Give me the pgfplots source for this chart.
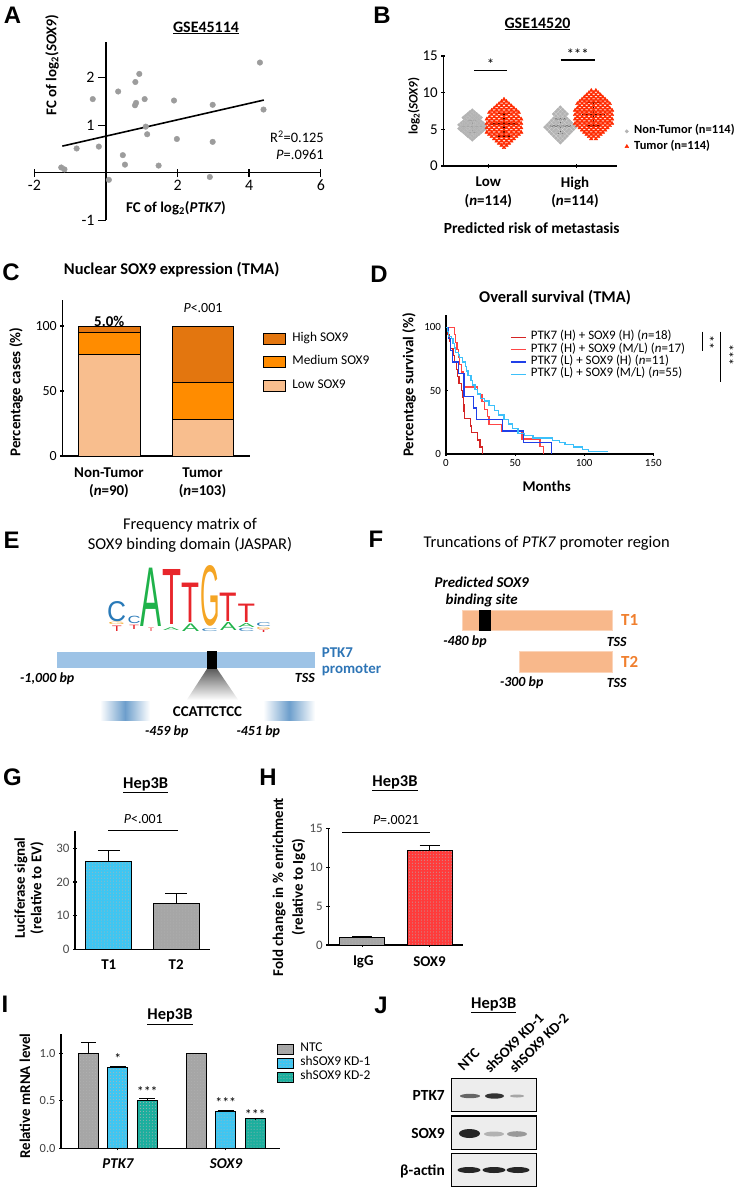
\documentclass[border=0pt]{standalone}
\usepackage{graphicx}
\usepackage{pgfplots}
\pgfplotsset{compat=1.18}
\usetikzlibrary{patterns}
\usepackage{fontspec}
\setmainfont{Carlito}
\newfontfamily\arial{Liberation Sans}
\newcommand\fs[1]{\fontsize{#1}{#1}\selectfont}
\newcommand\fsl[2]{\fontsize{#1}{#2}\selectfont}
\newcommand\pl[1]{{\arial\bfseries\fs{24}#1}}
\newcommand\logoL[6]{\node[anchor=south west, inner sep=0pt] at (#1,#2) {\resizebox{#3bp}{#4bp}{\textcolor{#5}{\arial #6}}};}

\definecolor{ptgray}{HTML}{9C9C9C}
\definecolor{nongray}{HTML}{B3B3B3}
\definecolor{tumred}{HTML}{FF2A00}
\definecolor{lowc}{HTML}{F8BE8E}
\definecolor{medc}{HTML}{FF8C00}
\definecolor{highc}{HTML}{E3760F}
\definecolor{kdred}{HTML}{D42424}
\definecolor{kred}{HTML}{FF4545}
\definecolor{kblue}{HTML}{2040E8}
\definecolor{klblue}{HTML}{3CC0FA}
\definecolor{barblue}{HTML}{3EC6F2}
\definecolor{bargray}{HTML}{A6A6A6}
\definecolor{barred}{HTML}{FF3B3B}
\definecolor{barteal}{HTML}{1BAF9E}
\definecolor{probar}{HTML}{9DC3E6}
\definecolor{problue}{HTML}{2E75B6}
\definecolor{peach}{HTML}{F8B88B}
\definecolor{torange}{HTML}{F07F2E}
\definecolor{logoC}{HTML}{2A7AB8}
\definecolor{logoA}{HTML}{1FB24A}
\definecolor{logoT}{HTML}{E8262B}
\definecolor{logoG}{HTML}{F5A524}

\pgfplotsset{
  every axis/.append style={scale only axis, anchor=south west, clip=false,
    axis line style={line width=1.1pt}, tick style={black, line width=1.1pt},
    major tick length=4bp, tick align=outside,
    /pgf/number format/assume math mode=true},
  noarr/.style={axis line style={-}, x axis line style={-}, y axis line style={-}},
  mybar/.style={ybar, bar shift=0pt, draw=black, line width=1pt, postaction={pattern=dots, pattern color=black!30}},
  errb/.style={/pgfplots/error bars/y dir=plus, /pgfplots/error bars/y explicit,
    /pgfplots/error bars/error bar style={line width=1pt, black},
    /pgfplots/error bars/error mark options={rotate=90, line width=1pt, black, mark size=#1}},
  sqleg/.style={legend image code/.code={\draw[fill=#1, draw=black, line width=0.8pt] (0bp,-5bp) rectangle (16bp,5bp);}},
}

\begin{document}
\begin{tikzpicture}
\begin{scope}[x=1bp,y=-1bp, nodes={inner sep=0pt}]
\useasboundingbox (0,0) rectangle (747,1189);
% panel letters
\node at (12.5,15) {\pl{A}};
\node at (382,15) {\pl{B}};
\node at (11,272) {\pl{C}};
\node at (379,274) {\pl{D}};
\node at (11.7,540) {\pl{E}};
\node at (376,539) {\pl{F}};
\node at (12.5,777) {\pl{G}};
\node at (268,777) {\pl{H}};
\node at (5,1004) {\pl{I}};
\node at (381,1005) {\pl{J}};
% A
\node[font=\bfseries\fs{16}] at (206,28) {\underline{GSE45114}};
\node[font=\bfseries\fs{15}, rotate=90] at (52,65) {FC of log\textsubscript{2}(\textit{SOX9})};
\node[font=\bfseries\fs{15}] at (176,208) {FC of log\textsubscript{2}(\textit{PTK7})};
\node[font=\fs{14.5}, anchor=east] at (324,136.7) {R\textsuperscript{2}=0.125};
\node[font=\fs{14.5}, anchor=east] at (324,155) {\textit{P}=.0961};
% B
\node[font=\bfseries\fs{16}] at (537.5,24) {\underline{GSE14520}};
\node[font=\bfseries\fs{13}, rotate=90] at (414,106) {log\textsubscript{2}(\textit{SOX9})};
\node[font=\bfseries\fsl{15}{18.7}, align=center] at (488.3,192.3) {Low\\(\textit{n}=114)};
\node[font=\bfseries\fsl{15}{18.7}, align=center] at (575,192.3) {High\\(\textit{n}=114)};
\node[font=\bfseries\fs{15.5}] at (531.7,228.3) {Predicted risk of metastasis};
% C
\node[font=\bfseries\fs{16.5}] at (171.7,270) {Nuclear SOX9 expression (TMA)};
\node[font=\bfseries\fs{15}, rotate=90] at (16,392) {Percentage cases (\%)};
\node[font=\fs{14}] at (203,308) {\textit{P}<.001};
\node[font=\bfseries\fsl{15}{18.4}, align=center] at (109,482.5) {Non-Tumor\\(\textit{n}=90)};
\node[font=\bfseries\fsl{15}{18.4}, align=center] at (202.5,482.5) {Tumor\\(\textit{n}=103)};
% D
\node[font=\bfseries\fs{16.5}] at (555,297.5) {Overall survival (TMA)};
\node[font=\bfseries\fs{15}, rotate=90] at (409,385) {Percentage survival (\%)};
\node[font=\bfseries\fs{15}] at (546.7,486.7) {Months};
\draw[line width=1pt] (702.3,331.7) -- (702.3,351);
\draw[line width=1pt] (720,331.7) -- (720,381.7);
\node[font=\fs{14}, rotate=-90] at (709,342) {**};
\node[font=\fs{14}, rotate=-90] at (728.5,355) {***};
% E
\node[font=\fsl{16.5}{20}, align=center] at (190,535) {Frequency matrix of\\SOX9 binding domain (JASPAR)};
\logoL{107}{621.7}{19}{20}{logoC}{C}
\logoL{127.3}{624}{13}{7.3}{logoC}{C}
\logoL{140.6}{626.7}{21}{58.4}{logoA}{A}
\logoL{162}{625}{19}{55}{logoT}{T}
\logoL{181.4}{622.7}{18}{39.4}{logoT}{T}
\logoL{199.8}{626.7}{19.5}{60}{logoG}{G}
\logoL{219.6}{621.7}{17.5}{28.4}{logoT}{T}
\logoL{237.5}{622.7}{17.5}{18.4}{logoT}{T}
\logoL{108}{625}{17}{2.4}{logoG}{G}
\logoL{111.7}{631.2}{10}{5.5}{logoT}{T}
\logoL{129}{629.2}{10}{4.3}{logoT}{T}
\logoL{148}{631.2}{6}{3.4}{logoT}{T}
\logoL{163}{630.8}{16}{2.8}{logoA}{A}
\logoL{182}{631.2}{17}{7.5}{logoA}{A}
\logoL{201}{631.5}{17}{2.8}{logoC}{C}
\logoL{220}{630.5}{16.5}{8}{logoA}{A}
\logoL{238}{627.8}{16.5}{4}{logoA}{A}
\logoL{238}{632}{16.5}{3.3}{logoC}{C}
\logoL{256}{627}{15}{3.8}{logoC}{C}
\logoL{256}{629.6}{15}{2.1}{logoG}{G}
\logoL{258.5}{632.2}{10}{2.3}{logoT}{T}
\fill[probar] (56.7,651.7) rectangle (315,668.3);
\shade[top color=black!65, bottom color=white] (207.3,668.3) -- (216.7,668.3) -- (238.3,700) -- (186.7,700) -- cycle;
\fill[black] (207.3,651) rectangle (216.7,669);
\node[font=\bfseries\fs{15}, text=problue, anchor=west] at (321.7,653) {PTK7};
\node[font=\bfseries\fs{15}, text=problue, anchor=west] at (321.7,670) {promoter};
\node[font=\bfseries\itshape\fs{14}, anchor=west] at (20,678.3) {-1,000 bp};
\node[font=\bfseries\itshape\fs{14}, anchor=east] at (315,678.3) {TSS};
\shade[left color=white, right color=white, middle color=problue!70] (100,701.7) rectangle (150,720);
\shade[left color=white, right color=white, middle color=problue!70] (263.3,701.7) rectangle (315,720);
\node[font=\bfseries\fs{15}] at (207.5,711.7) {CCATTCTCC};
\node[font=\bfseries\itshape\fs{14}] at (166.7,731.7) {-459 bp};
\node[font=\bfseries\itshape\fs{14}] at (258.3,731.7) {-451 bp};
% F
\node[font=\fs{16.5}] at (546.7,543.3) {Truncations of \textit{PTK7} promoter region};
\node[font=\bfseries\itshape\fsl{15}{18}, align=center] at (481.7,592) {Predicted SOX9\\binding site};
\filldraw[fill=peach, draw=peach!60!white, line width=0.8pt] (462.7,610) rectangle (612.3,630.7);
\fill[black] (479.3,610) rectangle (490.7,630.7);
\node[font=\bfseries\fs{17}, text=torange, anchor=west] at (621,620) {T1};
\node[font=\bfseries\itshape\fs{14}] at (465,641.7) {-480 bp};
\node[font=\bfseries\itshape\fs{14}] at (616.7,641.7) {TSS};
\filldraw[fill=peach, draw=peach!60!white, line width=0.8pt] (519,651.7) rectangle (612.3,672);
\node[font=\bfseries\fs{17}, text=torange, anchor=west] at (621,662) {T2};
\node[font=\bfseries\itshape\fs{14}] at (521.7,683) {-300 bp};
\node[font=\bfseries\itshape\fs{14}] at (616.7,683) {TSS};
% G
\node[font=\bfseries\fs{16.5}] at (145.7,785) {\underline{Hep3B}};
\node[font=\fs{14}] at (143.3,819.3) {\textit{P}<.001};
\draw[line width=1pt] (108.3,830) -- (178.3,830);
\node[font=\bfseries\fsl{15}{16.5}, rotate=90, align=center] at (29,888) {Luciferase signal\\(relative to EV)};
\node[font=\bfseries\fs{15}] at (108.8,965) {T1};
\node[font=\bfseries\fs{15}] at (176.2,965) {T2};
% H
\node[font=\bfseries\fs{16.5}] at (395,783.3) {\underline{Hep3B}};
\node[font=\fs{14}] at (396,820) {\textit{P}=.0021};
\draw[line width=1pt] (342,832.7) -- (430,832.7);
\node[font=\bfseries\fsl{15}{20}, rotate=90, align=center] at (289,887) {Fold change in \% enrichment\\(relative to IgG)};
\node[font=\bfseries\fs{15}] at (363.3,961.7) {IgG};
\node[font=\bfseries\fs{15}] at (429.5,961.7) {SOX9};
% I
\node[font=\bfseries\fs{16.5}] at (170,1016.7) {\underline{Hep3B}};
\node[font=\bfseries\fs{15}, rotate=90] at (25,1096) {Relative mRNA level};
\node[font=\bfseries\itshape\fs{15}] at (118,1163.3) {PTK7};
\node[font=\bfseries\itshape\fs{15}] at (226,1163.3) {SOX9};
% J
\node[font=\bfseries\fs{16.5}] at (493.7,1005) {\underline{Hep3B}};
\node[font=\bfseries\fs{14.5}, rotate=45, anchor=base west] at (463.5,1071.5) {NTC};
\node[font=\bfseries\fs{14.5}, rotate=45, anchor=base west] at (490,1074) {shSOX9 KD-1};
\node[font=\bfseries\fs{14.5}, rotate=45, anchor=base west] at (515,1074) {shSOX9 KD-2};
\filldraw[fill=black!7, draw=black, line width=1.2pt] (451.7,1078.3) rectangle (536.7,1111.7);
\filldraw[fill=black!7, draw=black, line width=1.2pt] (451.7,1116) rectangle (536.7,1149.3);
\filldraw[fill=black!7, draw=black, line width=1.2pt] (451.7,1153.3) rectangle (536.7,1186.7);
\fill[black!60] (470,1096) ellipse (10 and 2.2);
\fill[black!80] (494.5,1096) ellipse (9.5 and 2.7);
\fill[black!35] (517,1096) ellipse (7 and 1.5);
\fill[black!85] (469.5,1133.5) ellipse (10.5 and 4.5);
\fill[black!30] (494,1134) ellipse (10 and 2.5);
\fill[black!40] (517,1134) ellipse (10 and 2.8);
\fill[black!85] (469,1170) ellipse (11.5 and 3);
\fill[black!85] (494,1170) ellipse (11.5 and 3);
\fill[black!85] (518,1170) ellipse (11.5 and 3);
\node[font=\bfseries\fs{15.5}, anchor=east] at (445,1095) {PTK7};
\node[font=\bfseries\fs{15.5}, anchor=east] at (445,1133.5) {SOX9};
\node[font=\bfseries\fs{15.5}, anchor=east] at (445,1171) {β-actin};
\end{scope}

% ---------- A ----------
\begin{axis}[at={(34.4bp,-220.2bp)}, width=286.4bp, height=178.1bp,
  xmin=-2,xmax=6,ymin=-1,ymax=2.75, axis lines=middle, noarr,
  axis line style={line width=1.4pt}, tick style={line width=1.4pt},
  xtick={-2,2,4,6}, xticklabels={-2,2,4,6}, ytick={-1,1,2}, yticklabels={-1,1,2},
  xtick align=center, ytick align=outside, major tick length=8bp,
  tick label style={font=\fs{16}}]
\addplot[only marks, mark=*, color=ptgray, mark size=2.8bp] coordinates {
(4.30,2.32)(4.40,1.33)(0.93,2.08)(0.82,1.91)(0.34,1.71)(-0.37,1.55)(0.84,1.47)(0.81,1.42)
(1.08,1.55)(1.90,1.52)(2.98,1.43)(1.11,0.97)(1.15,0.81)(1.98,0.71)(2.98,0.65)(-0.82,0.51)
(-0.20,0.55)(0.47,0.37)(0.53,0.17)(1.47,0.15)(-1.25,0.11)(-1.16,0.07)(0.08,-0.15)(2.90,-0.09)};
\addplot[black, line width=1.6pt] coordinates {(-1.22,0.56)(4.41,1.53)};
\end{axis}

% ---------- B ----------
\begin{axis}[at={(443.3bp,-166bp)}, width=173.4bp, height=110bp,
  xmin=0,xmax=6,ymin=0,ymax=15, axis lines=left, noarr,
  xtick={1.55,4.6}, xticklabels={,,}, ytick={0,5,10,15},
  tick label style={font=\fs{15}},
  legend style={at={(1.040,0.246)}, anchor=west, draw=none, fill=none, inner sep=0pt,
    font=\bfseries\fs{12.5}, row sep=5.2bp, nodes={inner sep=0pt, text height=0.75em, text depth=0.25em}},
  legend cell align=left,
  legend image code/.code={\draw[#1] plot coordinates {(3bp,0bp)}; \path[draw=none,fill=none] (0bp,0bp) -- (10.4bp,0bp);}]
\addplot[only marks, mark=*, color=nongray, mark size=1.7bp] coordinates {
(1,3.6)
(.925,3.85)(1.075,3.85)
(.85,4.1)(1,4.1)(1.15,4.1)
(.775,4.35)(.925,4.35)(1.075,4.35)(1.225,4.35)
(.7,4.6)(.85,4.6)(1,4.6)(1.15,4.6)(1.3,4.6)
(.625,4.85)(.775,4.85)(.925,4.85)(1.075,4.85)(1.225,4.85)(1.375,4.85)
(.55,5.1)(.7,5.1)(.85,5.1)(1,5.1)(1.15,5.1)(1.3,5.1)(1.45,5.1)
(.625,5.35)(.775,5.35)(.925,5.35)(1.075,5.35)(1.225,5.35)(1.375,5.35)
(.55,5.6)(.7,5.6)(.85,5.6)(1,5.6)(1.15,5.6)(1.3,5.6)(1.45,5.6)
(.625,5.85)(.775,5.85)(.925,5.85)(1.075,5.85)(1.225,5.85)(1.375,5.85)
(.7,6.1)(.85,6.1)(1,6.1)(1.15,6.1)(1.3,6.1)
(.775,6.35)(.925,6.35)(1.075,6.35)(1.225,6.35)
(.7,6.6)(.85,6.6)(1,6.6)(1.15,6.6)(1.3,6.6)
(.775,6.85)(.925,6.85)(1.075,6.85)(1.225,6.85)
(.85,7.1)(1,7.1)(1.15,7.1)
(.925,7.35)(1.075,7.35)
(1,7.6)
(4.05,3.2)
(3.975,3.5)(4.125,3.5)
(3.9,3.8)(4.05,3.8)(4.2,3.8)
(3.825,4.1)(3.975,4.1)(4.125,4.1)(4.275,4.1)
(3.75,4.4)(3.9,4.4)(4.05,4.4)(4.2,4.4)(4.35,4.4)
(3.675,4.7)(3.825,4.7)(3.975,4.7)(4.125,4.7)(4.275,4.7)(4.425,4.7)
(3.6,5)(3.75,5)(3.9,5)(4.05,5)(4.2,5)(4.35,5)(4.5,5)
(3.525,5.3)(3.675,5.3)(3.825,5.3)(3.975,5.3)(4.125,5.3)(4.275,5.3)(4.425,5.3)(4.575,5.3)
(3.6,5.6)(3.75,5.6)(3.9,5.6)(4.05,5.6)(4.2,5.6)(4.35,5.6)(4.5,5.6)
(3.675,5.9)(3.825,5.9)(3.975,5.9)(4.125,5.9)(4.275,5.9)(4.425,5.9)
(3.75,6.2)(3.9,6.2)(4.05,6.2)(4.2,6.2)(4.35,6.2)
(3.825,6.5)(3.975,6.5)(4.125,6.5)(4.275,6.5)
(3.9,6.8)(4.05,6.8)(4.2,6.8)
(3.825,7.1)(3.975,7.1)(4.125,7.1)(4.275,7.1)
(3.9,7.4)(4.05,7.4)(4.2,7.4)
(3.975,7.7)(4.125,7.7)
(4.05,8)};
\addlegendentry{Non-Tumor (n=114)}
\addplot[only marks, mark=triangle*, color=tumred, mark size=2.1bp] coordinates {
(2.1,2.5)
(2.015,2.8)(2.185,2.8)
(1.93,3.1)(2.1,3.1)(2.27,3.1)
(1.845,3.4)(2.015,3.4)(2.185,3.4)(2.355,3.4)
(1.76,3.7)(1.93,3.7)(2.1,3.7)(2.27,3.7)(2.44,3.7)
(1.675,4)(1.845,4)(2.015,4)(2.185,4)(2.355,4)(2.525,4)
(1.59,4.3)(1.76,4.3)(1.93,4.3)(2.1,4.3)(2.27,4.3)(2.44,4.3)(2.61,4.3)
(1.505,4.6)(1.675,4.6)(1.845,4.6)(2.015,4.6)(2.185,4.6)(2.355,4.6)(2.525,4.6)(2.695,4.6)
(1.59,4.9)(1.76,4.9)(1.93,4.9)(2.1,4.9)(2.27,4.9)(2.44,4.9)(2.61,4.9)
(1.505,5.2)(1.675,5.2)(1.845,5.2)(2.015,5.2)(2.185,5.2)(2.355,5.2)(2.525,5.2)(2.695,5.2)
(1.59,5.5)(1.76,5.5)(1.93,5.5)(2.1,5.5)(2.27,5.5)(2.44,5.5)(2.61,5.5)
(1.505,5.8)(1.675,5.8)(1.845,5.8)(2.015,5.8)(2.185,5.8)(2.355,5.8)(2.525,5.8)(2.695,5.8)
(1.59,6.1)(1.76,6.1)(1.93,6.1)(2.1,6.1)(2.27,6.1)(2.44,6.1)(2.61,6.1)
(1.505,6.4)(1.675,6.4)(1.845,6.4)(2.015,6.4)(2.185,6.4)(2.355,6.4)(2.525,6.4)(2.695,6.4)
(1.59,6.7)(1.76,6.7)(1.93,6.7)(2.1,6.7)(2.27,6.7)(2.44,6.7)(2.61,6.7)
(1.675,7)(1.845,7)(2.015,7)(2.185,7)(2.355,7)(2.525,7)
(1.59,7.3)(1.76,7.3)(1.93,7.3)(2.1,7.3)(2.27,7.3)(2.44,7.3)(2.61,7.3)
(1.675,7.6)(1.845,7.6)(2.015,7.6)(2.185,7.6)(2.355,7.6)(2.525,7.6)
(1.76,7.9)(1.93,7.9)(2.1,7.9)(2.27,7.9)(2.44,7.9)
(1.845,8.2)(2.015,8.2)(2.185,8.2)(2.355,8.2)
(1.93,8.5)(2.1,8.5)(2.27,8.5)
(2.015,8.8)(2.185,8.8)
(2.1,9.1)
(5.12,3.7)(5.28,3.7)
(5.04,4)(5.2,4)(5.36,4)
(4.96,4.3)(5.12,4.3)(5.28,4.3)(5.44,4.3)
(4.88,4.6)(5.04,4.6)(5.2,4.6)(5.36,4.6)(5.52,4.6)
(4.8,4.9)(4.96,4.9)(5.12,4.9)(5.28,4.9)(5.44,4.9)(5.6,4.9)
(4.72,5.2)(4.88,5.2)(5.04,5.2)(5.2,5.2)(5.36,5.2)(5.52,5.2)(5.68,5.2)
(4.64,5.5)(4.8,5.5)(4.96,5.5)(5.12,5.5)(5.28,5.5)(5.44,5.5)(5.6,5.5)(5.76,5.5)
(4.56,5.8)(4.72,5.8)(4.88,5.8)(5.04,5.8)(5.2,5.8)(5.36,5.8)(5.52,5.8)(5.68,5.8)(5.84,5.8)
(4.64,6.1)(4.8,6.1)(4.96,6.1)(5.12,6.1)(5.28,6.1)(5.44,6.1)(5.6,6.1)(5.76,6.1)
(4.56,6.4)(4.72,6.4)(4.88,6.4)(5.04,6.4)(5.2,6.4)(5.36,6.4)(5.52,6.4)(5.68,6.4)(5.84,6.4)
(4.64,6.7)(4.8,6.7)(4.96,6.7)(5.12,6.7)(5.28,6.7)(5.44,6.7)(5.6,6.7)(5.76,6.7)
(4.56,7)(4.72,7)(4.88,7)(5.04,7)(5.2,7)(5.36,7)(5.52,7)(5.68,7)(5.84,7)
(4.64,7.3)(4.8,7.3)(4.96,7.3)(5.12,7.3)(5.28,7.3)(5.44,7.3)(5.6,7.3)(5.76,7.3)
(4.56,7.6)(4.72,7.6)(4.88,7.6)(5.04,7.6)(5.2,7.6)(5.36,7.6)(5.52,7.6)(5.68,7.6)(5.84,7.6)
(4.64,7.9)(4.8,7.9)(4.96,7.9)(5.12,7.9)(5.28,7.9)(5.44,7.9)(5.6,7.9)(5.76,7.9)
(4.72,8.2)(4.88,8.2)(5.04,8.2)(5.2,8.2)(5.36,8.2)(5.52,8.2)(5.68,8.2)
(4.64,8.5)(4.8,8.5)(4.96,8.5)(5.12,8.5)(5.28,8.5)(5.44,8.5)(5.6,8.5)(5.76,8.5)
(4.72,8.8)(4.88,8.8)(5.04,8.8)(5.2,8.8)(5.36,8.8)(5.52,8.8)(5.68,8.8)
(4.8,9.1)(4.96,9.1)(5.12,9.1)(5.28,9.1)(5.44,9.1)(5.6,9.1)
(4.88,9.4)(5.04,9.4)(5.2,9.4)(5.36,9.4)(5.52,9.4)
(4.96,9.7)(5.12,9.7)(5.28,9.7)(5.44,9.7)
(5.04,10)(5.2,10)(5.36,10)
(5.12,10.3)(5.28,10.3)};
\addlegendentry{Tumor (n=114)}
\addplot[black, line width=1.4pt, unbounded coords=jump, forget plot] coordinates {
(0.62,5.37)(1.38,5.37)(1,nan)(1,4.55)(1,6.18)(1,nan)(0.82,4.55)(1.18,4.55)(1,nan)(0.82,6.18)(1.18,6.18)(1,nan)
(1.6,5.73)(2.6,5.73)(1,nan)(2.1,4.1)(2.1,7.19)(1,nan)(1.9,4.1)(2.3,4.1)(1,nan)(1.9,7.19)(2.3,7.19)(1,nan)
(3.68,5.46)(4.42,5.46)(1,nan)(4.05,4.46)(4.05,6.41)(1,nan)(3.85,4.46)(4.25,4.46)(1,nan)(3.85,6.41)(4.25,6.41)(1,nan)
(4.8,7.0)(5.6,7.0)(1,nan)(5.2,5.46)(5.2,8.64)(1,nan)(4.97,5.46)(5.43,5.46)(1,nan)(4.97,8.64)(5.43,8.64)(1,nan)
(1.07,13.05)(2.21,13.05)(1,nan)(4.06,14.46)(5.25,14.46)};
\node[font=\fs{15}] at (axis cs:1.64,13.9) {*};
\node[font=\fs{15}] at (axis cs:4.65,15.3) {***};
\end{axis}

% ---------- C ----------
\begin{axis}[at={(62.3bp,-456bp)}, width=187.7bp, height=156bp,
  xmin=0.5,xmax=2.5,ymin=0,ymax=120, axis lines=left, noarr,
  ybar stacked, bar width=61.7bp, xtick=\empty, ytick={0,50,100},
  tick label style={font=\fs{14}}, reverse legend,
  legend style={at={(1.069,0.6006)}, anchor=west, draw=none, fill=none, inner sep=0pt,
    font=\fs{13.4}, row sep=11.3bp, nodes={inner sep=0pt, text height=0.75em, text depth=0.25em}},
  legend cell align=left,
  legend image code/.code={\draw[#1, draw=black, line width=1pt] (0bp,-5.5bp) rectangle (22bp,5.5bp); \path[draw=none,fill=none] (0bp,0bp) -- (28.7bp,0bp);}]
\addplot[fill=lowc, draw=black, line width=1pt] coordinates {(1,77.8)(2,28.2)};
\addlegendentry{Low SOX9}
\addplot[fill=medc, draw=black, line width=1pt] coordinates {(1,17.2)(2,28.2)};
\addlegendentry{Medium SOX9}
\addplot[fill=highc, draw=black, line width=1pt] coordinates {(1,5.0)(2,43.6)};
\addlegendentry{High SOX9}
\node[font=\bfseries\fs{15}] at (axis cs:1,40.5) {77.8\%};
\node[font=\bfseries\fs{15}] at (axis cs:1,84.8) {17.2\%};
\node[font=\bfseries\fs{15}] at (axis cs:1,103.3) {5.0\%};
\node[font=\bfseries\fs{15}] at (axis cs:2,75.6) {43.6\%};
\node[font=\bfseries\fs{15}] at (axis cs:2,40.5) {28.2\%};
\node[font=\bfseries\fs{15}] at (axis cs:2,14) {28.2\%};
\end{axis}

% ---------- D ----------
\begin{axis}[at={(446bp,-454bp)}, width=207.3bp, height=139.4bp,
  xmin=0,xmax=150,ymin=0,ymax=110, axis lines=left, noarr,
  xtick={0,50,100,150}, ytick={0,50,100}, major tick length=3bp,
  tick label style={font=\fs{11}},
  legend style={at={(0.309,0.704)}, anchor=west, draw=none, fill=none, inner sep=0pt,
    font=\fs{13}, row sep=2.3bp, nodes={inner sep=0pt, text height=0.75em, text depth=0.25em}},
  legend cell align=left,
  legend image code/.code={\draw[#1] (0bp,0bp) -- (15bp,0bp); \path[draw=none,fill=none] (0bp,0bp) -- (20bp,0bp);}]
\addplot[kdred, line width=1.3pt] coordinates {
(0,100)(1.5,100)(1.5,94.4)(2.5,94.4)(2.5,88.9)(3.5,88.9)(3.5,83.3)(5,83.3)(5,77.8)(6,77.8)(6,72.2)
(7.5,72.2)(7.5,66.7)(8.5,66.7)(8.5,61.1)(9.5,61.1)(9.5,55.6)(11,55.6)(11,50)(12,50)(12,44.4)
(12.5,44.4)(12.5,38.9)(13,38.9)(13,33.3)(13.5,33.3)(13.5,27.8)(17.5,27.8)(17.5,22.2)(18.5,22.2)
(18.5,16.7)(23,16.7)(23,11.1)(24.5,11.1)(24.5,5.6)(26.5,5.6)(26.5,0)};
\addlegendentry{PTK7 (H) + SOX9 (H) (\textit{n}=18)}
\addplot[kred, line width=1.3pt] coordinates {
(0,100)(6,100)(6,94.1)(7,94.1)(7,88.2)(8,88.2)(8,82.4)(9,82.4)(9,76.5)(10,76.5)(10,70.6)(11,70.6)
(11,64.7)(12.5,64.7)(12.5,58.8)(13.5,58.8)(13.5,52.9)(23,52.9)(23,47.1)(26,47.1)(26,41.2)(28,41.2)
(28,35.3)(30,35.3)(30,29.4)(31,29.4)(31,23.5)(40,23.5)(40,17.6)(55,17.6)(55,11.8)(68,11.8)(68,5.9)
(70.5,5.9)(70.5,0)};
\addlegendentry{PTK7 (H) + SOX9 (M/L) (\textit{n}=17)}
\addplot[kblue, line width=1.3pt] coordinates {
(0,100)(2,100)(2,90.9)(3.5,90.9)(3.5,81.8)(4.5,81.8)(4.5,72.7)(9,72.7)(9,63.6)(13,63.6)(13,45.5)
(20,45.5)(20,36.4)(22,36.4)(22,27.3)(41,27.3)(41,18.2)(56,18.2)(56,9.1)(76.5,9.1)(76.5,0)};
\addlegendentry{PTK7 (L) + SOX9 (H) (\textit{n}=11)}
\addplot[klblue, line width=1.3pt] coordinates {
(0,100)(1,100)(1,96.4)(2,96.4)(2,92.7)(4,92.7)(4,90.9)(5,90.9)(5,87.3)(6,87.3)(6,83.6)(7,83.6)
(7,80)(9,80)(9,78.2)(10,78.2)(10,76.4)(12,76.4)(12,72.7)(14,72.7)(14,69.1)(15,69.1)(15,65.5)
(16,65.5)(16,61.8)(18,61.8)(18,58.2)(19,58.2)(19,54.5)(21,54.5)(21,50.9)(23,50.9)(23,47.3)
(25,47.3)(25,43.6)(28,43.6)(28,41.8)(31,41.8)(31,38.2)(35,38.2)(35,34.5)(38,34.5)(38,30.9)
(42,30.9)(42,27.3)(45,27.3)(45,23.6)(48,23.6)(48,20)(52,20)(52,16.4)(57,16.4)(57,14.5)(63,14.5)
(63,12.7)(77,12.7)(77,10.9)(82,10.9)(82,9.1)(86,9.1)(86,7.3)(92,7.3)(92,5.5)(99,5.5)(99,3.6)
(103,3.6)(103,1.8)(117,1.8)};
\addlegendentry{PTK7 (L) + SOX9 (M/L) (\textit{n}=55)}
\end{axis}

% ---------- G ----------
\begin{axis}[at={(75bp,-949.3bp)}, width=135bp, height=118bp,
  xmin=0.5,xmax=2.5,ymin=0,ymax=35, axis lines=left, noarr,
  axis line style={line width=1.6pt}, tick style={line width=1.3pt},
  xtick=\empty, ytick={0,10,20,30}, tick label style={font=\fs{13}, text=black!70}]
\addplot[mybar, bar width=45.7bp, fill=barblue, errb=11bp] coordinates {(1,26.1) +- (0,3.2)};
\addplot[mybar, bar width=45.7bp, fill=bargray, errb=11bp] coordinates {(2,13.5) +- (0,3.1)};
\end{axis}

% ---------- H ----------
\begin{axis}[at={(328.3bp,-945bp)}, width=135bp, height=116.7bp,
  xmin=0.5,xmax=2.5,ymin=0,ymax=15, axis lines=left, noarr,
  xtick={1,2}, xticklabels={,,}, ytick={0,5,10,15}, tick label style={font=\fs{13}, text=black!70}]
\addplot[mybar, bar width=45bp, fill=bargray, errb=10bp] coordinates {(1,1.0) +- (0,0.05)};
\addplot[mybar, bar width=45bp, fill=barred, errb=10bp] coordinates {(2,12.1) +- (0,0.7)};
\end{axis}

% ---------- I ----------
\begin{axis}[at={(61bp,-1148.3bp)}, width=219bp, height=114bp,
  xmin=0.075,xmax=7.5,ymin=0,ymax=1.2, axis lines=left, noarr,
  xtick={2,5.66}, xticklabels={,,}, ytick={0,0.5,1}, yticklabels={0.0,0.5,1.0},
  tick label style={font=\fs{12.5}, text=black!75},
  legend style={at={(0.985,0.746)}, anchor=west, draw=none, fill=none, inner sep=0pt,
    font=\fs{13.5}, row sep=3.2bp, nodes={inner sep=0pt, text height=0.75em, text depth=0.25em},
    /tikz/every odd column/.append style={column sep=6.6bp}},
  legend cell align=left]
\addplot[mybar, bar width=20bp, fill=bargray, errb=7.5bp, sqleg=bargray] coordinates {(1,1.0) +- (0,0.11) (4.66,1.0) +- (0,0)};
\addlegendentry{NTC}
\addplot[mybar, bar width=20bp, fill=barblue, errb=8bp, sqleg=barblue] coordinates {(2,0.85) +- (0,0.007) (5.66,0.39) +- (0,0.005)};
\addlegendentry{shSOX9 KD-1}
\addplot[mybar, bar width=20bp, fill=barteal, errb=8bp, sqleg=barteal] coordinates {(3,0.505) +- (0,0.015) (6.66,0.31) +- (0,0.003)};
\addlegendentry{shSOX9 KD-2}
\node[font=\fs{14}] at (axis cs:2,0.94) {*};
\node[font=\fs{14}] at (axis cs:3,0.6) {***};
\node[font=\fs{14}] at (axis cs:5.66,0.485) {***};
\node[font=\fs{14}] at (axis cs:6.66,0.36) {***};
\end{axis}
\end{tikzpicture}
\end{document}
